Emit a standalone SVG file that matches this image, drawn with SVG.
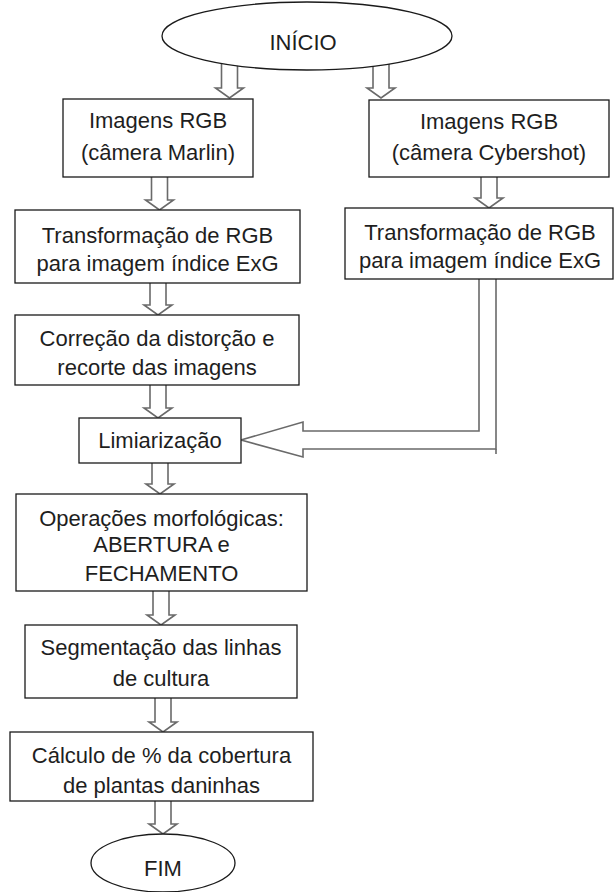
<svg xmlns="http://www.w3.org/2000/svg" width="616" height="892" viewBox="0 0 616 892">
<style>
.bg{fill:#fff}
.box{fill:#fff;stroke:#1a1a1a;stroke-width:1.3}
.arr{fill:#fff;stroke:#6a6a6a;stroke-width:1.6;stroke-linejoin:miter}
.t{font-family:"Liberation Sans",Arial,sans-serif;font-size:22px;fill:#1e1e1e;text-anchor:middle}
</style>
<rect class="bg" x="0" y="0" width="616" height="892"/>
<g id="connectors">
<path class="arr" d="M221.5,60 V88 H215.5 L229.5,98 L243.5,88 H237.5 V60"/>
<path class="arr" d="M373,60 V88 H367 L381,98 L395,88 H389 V60"/>
<path class="arr" d="M151.5,177 V200 H145.5 L159.5,210 L173.5,200 H167.5 V177"/>
<path class="arr" d="M481,177 V198 H475 L489,208 L503,198 H497 V177"/>
<path class="arr" d="M150,283 V305 H144 L158,315 L172,305 H166 V283"/>
<path class="arr" d="M150,385 V408 H144 L158,418 L172,408 H166 V385"/>
<path class="arr" d="M152,463 V484 H146 L160,494 L174,484 H168 V463"/>
<path class="arr" d="M153,591 V615 H147 L161,625 L175,615 H169 V591"/>
<path class="arr" d="M155,698 V722 H149 L163,732 L177,722 H171 V698"/>
<path class="arr" d="M155,801 V824 H149 L163,834 L177,824 H171 V801"/>
<path class="arr" d="M479,279 V431 H303 V422 L241,440 L303,457 V449 H496 V279"/>
<path class="arr" fill="none" d="M496,449 V454"/>
</g>
<g id="inicio">
<ellipse class="box" cx="307" cy="36" rx="145" ry="34"/>
<text class="t" x="303" y="50">INÍCIO</text>
</g>
<g id="img-marlin">
<rect class="box" x="63" y="99" width="190" height="78"/>
<text class="t" x="158" y="128">Imagens RGB</text>
<text class="t" x="158" y="160">(câmera Marlin)</text>
</g>
<g id="img-cybershot">
<rect class="box" x="369" y="100" width="240" height="77"/>
<text class="t" x="489" y="129">Imagens RGB</text>
<text class="t" x="489" y="160">(câmera Cybershot)</text>
</g>
<g id="exg-left">
<rect class="box" x="15" y="210" width="285" height="73"/>
<text class="t" x="157.5" y="243">Transformação de RGB</text>
<text class="t" x="157.5" y="271">para imagem índice ExG</text>
</g>
<g id="exg-right">
<rect class="box" x="345" y="208" width="268" height="71"/>
<text class="t" x="480" y="240">Transformação de RGB</text>
<text class="t" x="480" y="268">para imagem índice ExG</text>
</g>
<g id="correcao">
<rect class="box" x="15" y="315" width="284" height="70"/>
<text class="t" x="157" y="346">Correção da distorção e</text>
<text class="t" x="157" y="375">recorte das imagens</text>
</g>
<g id="limiarizacao">
<rect class="box" x="79" y="418" width="162" height="45"/>
<text class="t" x="160" y="448">Limiarização</text>
</g>
<g id="morfologicas">
<rect class="box" x="16" y="494" width="291" height="97"/>
<text class="t" x="161.5" y="526">Operações morfológicas:</text>
<text class="t" x="161.5" y="552">ABERTURA e</text>
<text class="t" x="161.5" y="581">FECHAMENTO</text>
</g>
<g id="segmentacao">
<rect class="box" x="25" y="625" width="272" height="73"/>
<text class="t" x="161" y="655">Segmentação das linhas</text>
<text class="t" x="161" y="686">de cultura</text>
</g>
<g id="calculo">
<rect class="box" x="10" y="732" width="303" height="69"/>
<text class="t" x="161.5" y="763">Cálculo de % da cobertura</text>
<text class="t" x="161.5" y="793">de plantas daninhas</text>
</g>
<g id="fim">
<ellipse class="box" cx="163" cy="863" rx="72" ry="29"/>
<text class="t" x="163" y="876">FIM</text>
</g>
</svg>
